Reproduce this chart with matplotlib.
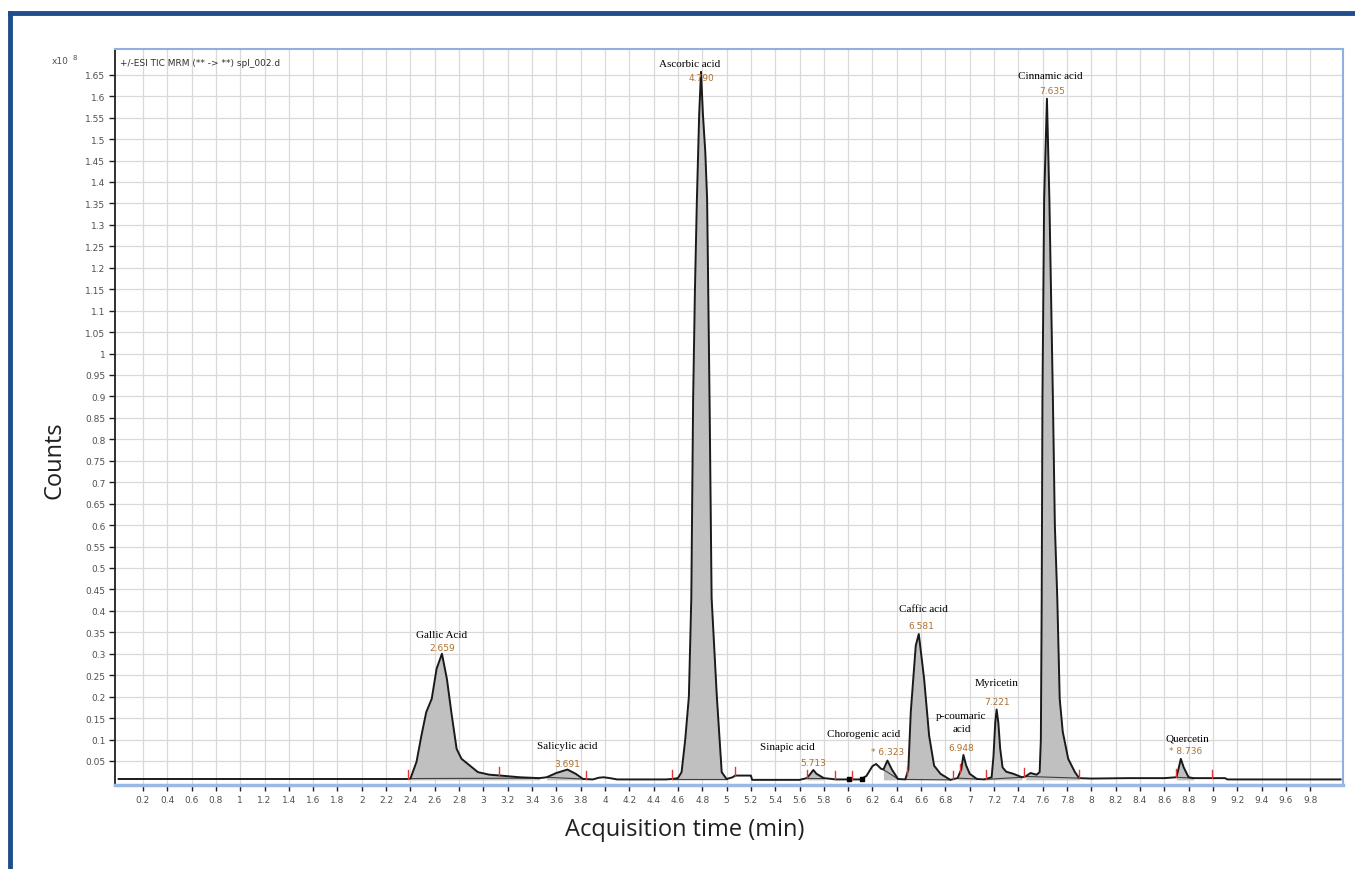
import matplotlib
matplotlib.use('Agg')
import matplotlib.pyplot as plt
from matplotlib.lines import Line2D
import numpy as np

# chromatogram trace (min, counts x10^8)
time = [0.0, 1.0, 2.0, 2.38, 2.40, 2.45, 2.49, 2.53, 2.575, 2.615, 2.659, 2.70, 2.74, 2.78,
        2.82, 2.89, 2.955, 3.05, 3.14, 3.30, 3.46, 3.52, 3.60, 3.691, 3.76, 3.82, 3.90, 3.95,
        3.99, 4.04, 4.10, 4.50, 4.55, 4.60, 4.63, 4.66, 4.69, 4.71, 4.725, 4.74, 4.756, 4.775,
        4.790, 4.805, 4.825, 4.84, 4.86, 4.877, 4.92, 4.96, 5.00, 5.05, 5.07, 5.20, 5.21, 5.60,
        5.66, 5.69, 5.713, 5.74, 5.80, 5.90, 6.00, 6.10, 6.15, 6.20, 6.23, 6.27, 6.29, 6.323,
        6.36, 6.41, 6.47, 6.495, 6.515, 6.556, 6.581, 6.60, 6.625, 6.666, 6.707, 6.76, 6.84,
        6.90, 6.93, 6.948, 6.97, 7.00, 7.06, 7.12, 7.18, 7.195, 7.21, 7.221, 7.235, 7.25, 7.27,
        7.30, 7.36, 7.43, 7.46, 7.50, 7.55, 7.575, 7.585, 7.592, 7.598, 7.612, 7.635, 7.655,
        7.684, 7.70, 7.72, 7.74, 7.765, 7.81, 7.865, 7.90, 8.00, 8.30, 8.60, 8.70, 8.72, 8.736,
        8.76, 8.80, 8.84, 9.00, 9.10, 9.12, 9.50, 10.05]
counts = [0.008, 0.008, 0.008, 0.008, 0.009, 0.048, 0.109, 0.164, 0.195, 0.265, 0.300, 0.241, 0.156, 0.078,
          0.055, 0.039, 0.024, 0.018, 0.016, 0.012, 0.010, 0.012, 0.022, 0.030, 0.020, 0.008, 0.007, 0.011,
          0.012, 0.010, 0.007, 0.007, 0.008, 0.010, 0.024, 0.100, 0.200, 0.430, 0.894, 1.150, 1.360, 1.560,
          1.657, 1.560, 1.470, 1.360, 0.894, 0.430, 0.200, 0.024, 0.008, 0.012, 0.016, 0.016, 0.006, 0.006,
          0.010, 0.020, 0.029, 0.020, 0.010, 0.007, 0.007, 0.007, 0.015, 0.038, 0.043, 0.032, 0.030, 0.051,
          0.030, 0.008, 0.007, 0.030, 0.164, 0.319, 0.346, 0.300, 0.241, 0.109, 0.039, 0.020, 0.006,
          0.010, 0.030, 0.064, 0.040, 0.020, 0.008, 0.007, 0.012, 0.060, 0.140, 0.170, 0.140, 0.080, 0.035,
          0.025, 0.020, 0.012, 0.014, 0.022, 0.018, 0.024, 0.100, 0.430, 0.894, 1.360, 1.594, 1.360,
          0.894, 0.600, 0.430, 0.195, 0.118, 0.055, 0.024, 0.010, 0.009, 0.010, 0.010, 0.012, 0.035, 0.055,
          0.035, 0.012, 0.010, 0.010, 0.010, 0.007, 0.007, 0.007]

# integrated (shaded) peak windows
peak_windows = [(2.40, 3.46), (3.52, 3.82), (4.55, 5.00), (5.66, 5.80), (6.29, 6.41),
                (6.47, 6.84), (6.90, 7.06), (7.12, 7.43), (7.46, 7.90), (8.70, 8.84)]
# red integration markers
marker_times = [2.38, 3.13, 3.84, 4.55, 5.07, 5.66, 5.89, 6.03, 6.48, 6.86, 6.92, 7.13, 7.45, 7.90, 8.70, 8.99]

peak_rt = [2.659, 3.691, 4.790, 5.713, 6.323, 6.581, 6.948, 7.221, 7.635, 8.736]
peak_names = ['Gallic Acid', 'Salicylic acid', 'Ascorbic acid', 'Sinapic acid', 'Chorogenic acid',
              'Caffic acid', 'p-coumaric\nacid', 'Myricetin', 'Cinnamic acid', 'Quercetin']
peak_rt_labels = ['2.659', '3.691', '4.790', '5.713', '* 6.323', '6.581', '6.948', '7.221', '7.635', '* 8.736']

x_ticks = [round(0.2 * i, 1) for i in range(1, 50)]
y_ticks = [round(0.05 * i, 2) for i in range(1, 34)]

# label offsets in pixels (name dx, dy, rt dx, dy)
offsets = [(0, 19, 0, 6), (0, 24, 0, 6), (-11, 8, 0, -6), (-26, 23, 0, 7), (-24, 27, 0, 9),
           (5, 26, 3, 9), (-2, 33, -2, 7), (0, 27, 0, 8), (3, 23, 5, 8), (7, 21, 5, 8)]

W, H = 1355, 870
fig = plt.figure(figsize=(W / 100, H / 100), dpi=100)
fig.patch.set_facecolor('white')
ax = fig.add_axes([115 / W, 1 - 786 / H, (1343 - 115) / W, (786 - 50) / H])

t = np.array(time)
c = np.array(counts)

for a, b in peak_windows:
    m = (t >= a) & (t <= b)
    ax.fill_between(t[m], c[m], 0.006, color='#c0c0c0', linewidth=0, zorder=2)
    ax.plot([a, b], [c[m][0], c[m][-1]], color='#404040', lw=0.8, zorder=3)

ax.plot(t, c, color='#1a1a1a', lw=1.4, zorder=4)

# small black blobs near 6.0-6.1 min
ax.scatter([6.01, 6.11], [0.009, 0.008], marker='s', s=7, color='black', zorder=5)

for mt in marker_times:
    yv = np.interp(mt, t, c)
    ax.plot([mt, mt], [yv, yv + 0.02], color='#e03838', lw=1.0, zorder=5)

px = 0.72  # pixel -> points
for rt, name, lab, (ndx, ndy, rdx, rdy) in zip(peak_rt, peak_names, peak_rt_labels, offsets):
    h = np.interp(rt, t, c)
    ax.annotate(name, xy=(rt, h), xytext=(ndx * px, ndy * px), textcoords='offset points',
                ha='center', va='center', fontsize=8, family='Liberation Serif',
                color='black', zorder=6, linespacing=1.45)
    ax.annotate(lab, xy=(rt, h), xytext=(rdx * px, rdy * px), textcoords='offset points',
                ha='center', va='center', fontsize=6.5, color='#b07030', zorder=6)

ax.set_xlim(-0.03, 10.07)
ax.set_ylim(-0.006, 1.71)
ax.set_xticks(x_ticks)
ax.set_xticklabels(['%g' % v for v in x_ticks])
ax.set_yticks(y_ticks)
ax.set_yticklabels(['%g' % v for v in y_ticks])
ax.tick_params(axis='both', labelsize=6.5, labelcolor='#505050', color='#202020',
               length=4, width=1, direction='out', pad=3)
ax.grid(True, color='#d9d9d9', linewidth=0.9, zorder=0)
ax.set_axisbelow(True)

for side in ['top', 'right']:
    ax.spines[side].set_color('#8fb0e0')
    ax.spines[side].set_linewidth(1.5)
ax.spines['bottom'].set_color('#9ab8e6')
ax.spines['bottom'].set_linewidth(2.5)
ax.spines['left'].set_color('#202020')
ax.spines['left'].set_linewidth(1.3)

ax.text(0.004, 0.988, '+/-ESI TIC MRM (** -> **) spl_002.d', transform=ax.transAxes,
        ha='left', va='top', fontsize=6.5, color='#303030')

fig.text(60 / W, 1 - 62 / H, 'x10', ha='center', va='center', fontsize=6.5, color='#505050')
fig.text(75 / W, 1 - 58 / H, '8', ha='center', va='center', fontsize=5, color='#505050')

fig.text(55 / W, 1 - 460 / H, 'Counts', rotation=90, ha='center', va='center',
         fontsize=17, family='Open Sans', color='#202020')
fig.text(685 / W, 1 - 830 / H, 'Acquisition time (min)', ha='center', va='center',
         fontsize=17, family='Open Sans', color='#202020')

# outer dark-blue frame (top and left)
fig.add_artist(Line2D([10 / W, 1], [1 - 14 / H, 1 - 14 / H], transform=fig.transFigure,
                      color='#1f4e8c', lw=3.5))
fig.add_artist(Line2D([10 / W, 10 / W], [0, 1 - 14 / H], transform=fig.transFigure,
                      color='#1f4e8c', lw=3.5))

fig.savefig('out.png', dpi=100)
